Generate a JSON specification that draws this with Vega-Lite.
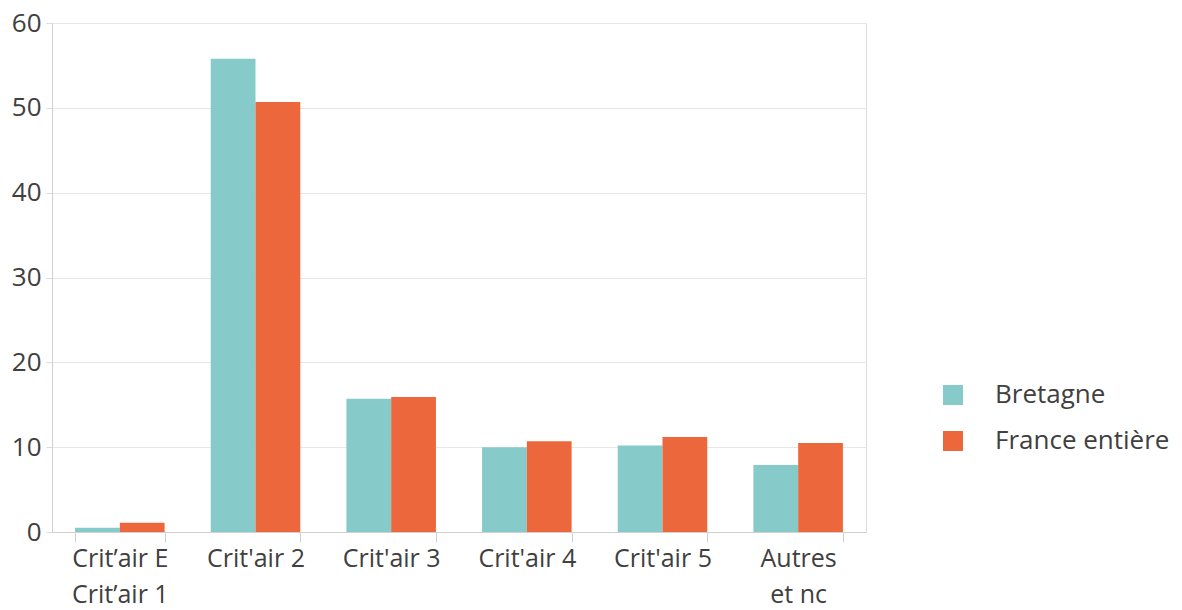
{
  "$schema": "https://vega.github.io/schema/vega-lite/v6.json",
  "autosize": "none",
  "width": 814,
  "height": 509,
  "padding": {"left": 52, "top": 23, "right": 316, "bottom": 78},
  "background": "white",
  "config": {
    "font": "Open Sans",
    "view": {"stroke": "#dcdcdc", "strokeWidth": 1}
  },
  "data": {
    "values": [
      {"cat": "Crit’air E|Crit’air 1", "zone": "Bretagne", "value": 0.5},
      {"cat": "Crit’air E|Crit’air 1", "zone": "France entière", "value": 1.1},
      {"cat": "Crit'air 2", "zone": "Bretagne", "value": 55.8},
      {"cat": "Crit'air 2", "zone": "France entière", "value": 50.7},
      {"cat": "Crit'air 3", "zone": "Bretagne", "value": 15.7},
      {"cat": "Crit'air 3", "zone": "France entière", "value": 15.9},
      {"cat": "Crit'air 4", "zone": "Bretagne", "value": 10.0},
      {"cat": "Crit'air 4", "zone": "France entière", "value": 10.7},
      {"cat": "Crit'air 5", "zone": "Bretagne", "value": 10.2},
      {"cat": "Crit'air 5", "zone": "France entière", "value": 11.2},
      {"cat": "Autres|et nc", "zone": "Bretagne", "value": 7.9},
      {"cat": "Autres|et nc", "zone": "France entière", "value": 10.5}
    ]
  },
  "mark": {"type": "bar"},
  "encoding": {
    "x": {
      "field": "cat",
      "type": "nominal",
      "sort": null,
      "scale": {"paddingInner": 0.34, "paddingOuter": 0.17},
      "axis": {
        "title": null,
        "labelAngle": 0,
        "labelExpr": "split(datum.label, '|')",
        "labelFont": "Open Sans",
        "labelFontSize": 25,
        "labelColor": "#404040",
        "labelLineHeight": 36,
        "labelPadding": 4,
        "labelLimit": 300,
        "tickBand": "extent",
        "tickColor": "#d0d0d0",
        "tickSize": 10,
        "domainColor": "#d0d0d0",
        "grid": false
      }
    },
    "xOffset": {"field": "zone", "type": "nominal", "scale": {"paddingInner": 0, "paddingOuter": 0}},
    "y": {
      "field": "value",
      "type": "quantitative",
      "scale": {"domain": [0, 60], "nice": false},
      "axis": {
        "title": null,
        "values": [0, 10, 20, 30, 40, 50, 60],
        "labelFont": "Open Sans",
        "labelFontSize": 26,
        "labelColor": "#404040",
        "labelPadding": 5,
        "tickColor": "#dcdcdc",
        "tickSize": 6,
        "domainColor": "#d0d0d0",
        "gridColor": "#e6e6e6"
      }
    },
    "color": {
      "field": "zone",
      "type": "nominal",
      "scale": {"domain": ["Bretagne", "France entière"], "range": ["#86CBC9", "#EC673C"]},
      "legend": {
        "title": null,
        "orient": "none",
        "legendX": 888,
        "legendY": 359,
        "symbolType": "square",
        "symbolSize": 400,
        "symbolStrokeWidth": 0,
        "labelFont": "Open Sans",
        "labelFontSize": 26,
        "labelColor": "#404040",
        "labelOffset": 29,
        "labelLimit": 300,
        "rowPadding": 20
      }
    }
  }
}
